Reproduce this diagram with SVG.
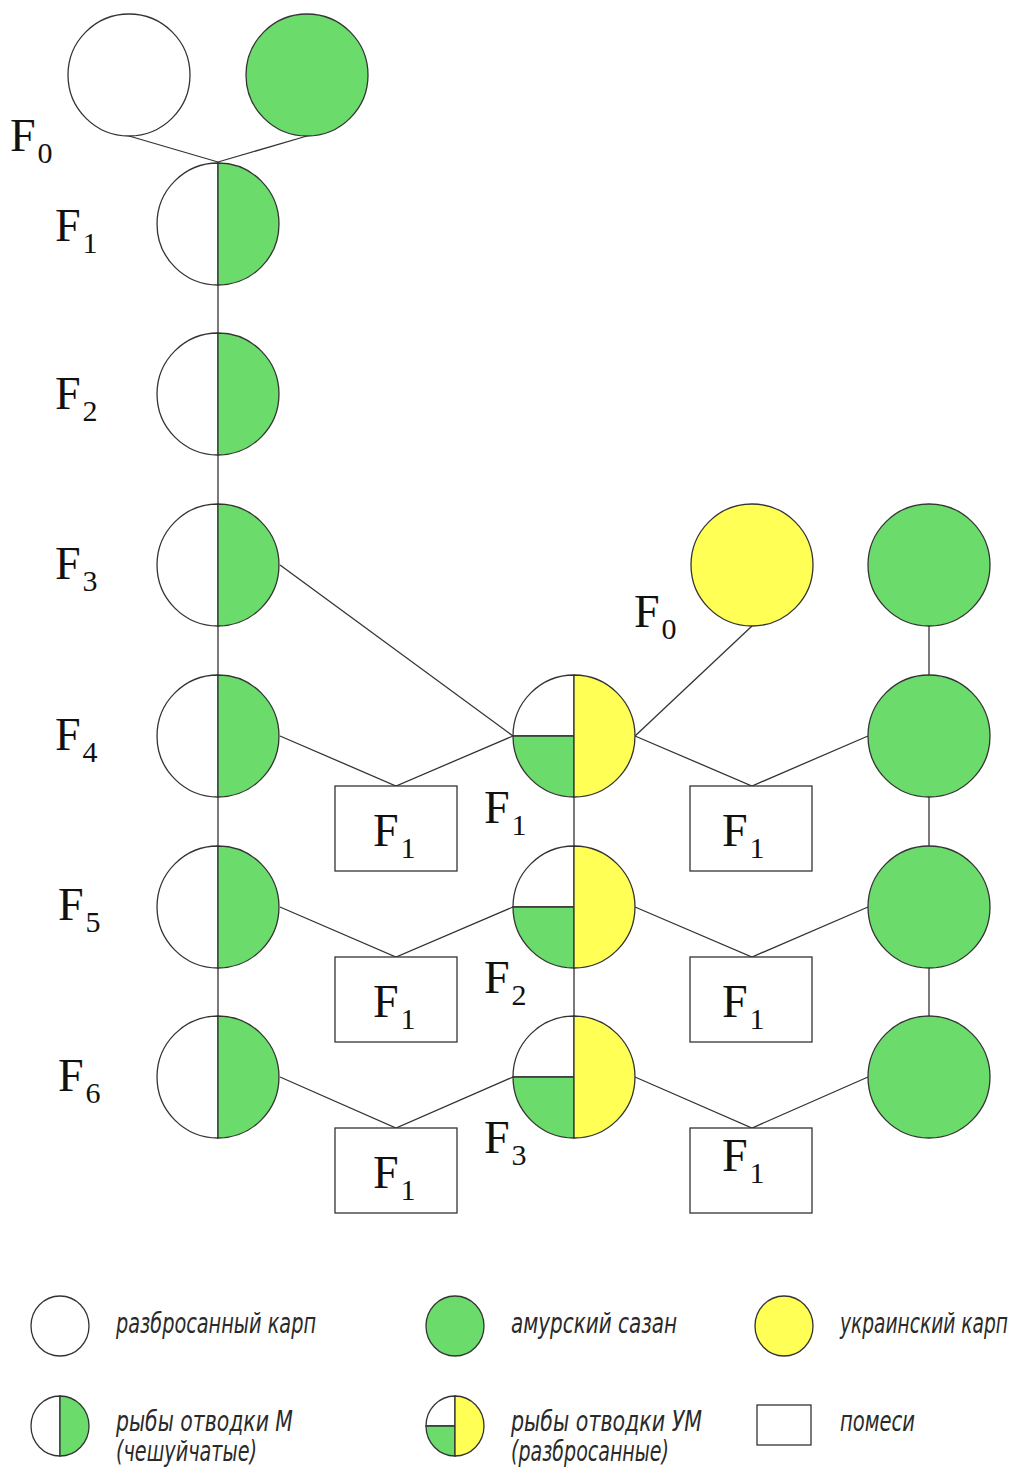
<svg xmlns="http://www.w3.org/2000/svg" width="1023" height="1469" viewBox="0 0 1023 1469">
  <style>
    .w { fill: #ffffff; stroke: #333; stroke-width: 1.3; }
    .g { fill: #6bdb6b; stroke: #333; stroke-width: 1.3; }
    .y { fill: #ffff55; stroke: #333; stroke-width: 1.3; }
    .ln { stroke: #333; stroke-width: 1.3; fill: none; }
    .box { fill: #ffffff; stroke: #333; stroke-width: 1.3; }
    .lab { font-family: "Liberation Serif", "Times New Roman", serif; font-size: 46px; fill: #111; }
    .sub { font-size: 30px; }
    .leg { font-family: "DejaVu Sans Condensed", "DejaVu Sans", sans-serif; font-style: italic; font-stretch: condensed; font-size: 28px; fill: #2a2a2a; }
  </style>
  <defs>
    <!-- half white / half green circle (line M) -->
    <g id="halfM">
      <path class="w" d="M0,-61 A61,61 0 0 0 0,61 Z"/>
      <path class="g" d="M0,-61 A61,61 0 0 1 0,61 Z"/>
    </g>
    <!-- quartered circle (line UM) -->
    <g id="quartUM">
      <path class="w" d="M0,-61 A61,61 0 0 0 -61,0 L0,0 Z"/>
      <path class="g" d="M-61,0 A61,61 0 0 0 0,61 L0,0 Z"/>
      <path class="y" d="M0,-61 A61,61 0 0 1 0,61 Z"/>
    </g>
  </defs>

  <!-- connectors -->
  <g id="connectors">
    <line class="ln" x1="129" y1="136" x2="218" y2="162"/>
    <line class="ln" x1="307" y1="136" x2="218" y2="162"/>
    <line class="ln" x1="218" y1="162" x2="218" y2="1138"/>
    <line class="ln" x1="574" y1="797" x2="574" y2="1016"/>
    <line class="ln" x1="929" y1="626" x2="929" y2="1016"/>
    <line class="ln" x1="280" y1="565" x2="513" y2="736"/>
    <line class="ln" x1="752" y1="626" x2="635" y2="736"/>
    <!-- row 4 -->
    <polyline class="ln" points="280,736 396,786 513,736"/>
    <polyline class="ln" points="635,736 752,786 868,736"/>
    <!-- row 5 -->
    <polyline class="ln" points="280,907 396,957 513,907"/>
    <polyline class="ln" points="635,907 752,957 868,907"/>
    <!-- row 6 -->
    <polyline class="ln" points="280,1077 396,1128 513,1077"/>
    <polyline class="ln" points="635,1077 752,1128 868,1077"/>
  </g>

  <!-- parents, left line -->
  <g id="p0-white"><circle class="w" cx="129" cy="75" r="61"/></g>
  <g id="p0-green"><circle class="g" cx="307" cy="75" r="61"/></g>
  <g id="m1"><use href="#halfM" x="218" y="224"/></g>
  <g id="m2"><use href="#halfM" x="218" y="394"/></g>
  <g id="m3"><use href="#halfM" x="218" y="565"/></g>
  <g id="m4"><use href="#halfM" x="218" y="736"/></g>
  <g id="m5"><use href="#halfM" x="218" y="907"/></g>
  <g id="m6"><use href="#halfM" x="218" y="1077"/></g>

  <!-- UM line -->
  <g id="u0-yellow"><circle class="y" cx="752" cy="565" r="61"/></g>
  <g id="um1"><use href="#quartUM" x="574" y="736"/></g>
  <g id="um2"><use href="#quartUM" x="574" y="907"/></g>
  <g id="um3"><use href="#quartUM" x="574" y="1077"/></g>

  <!-- Amur wild carp -->
  <g id="a0"><circle class="g" cx="929" cy="565" r="61"/></g>
  <g id="a1"><circle class="g" cx="929" cy="736" r="61"/></g>
  <g id="a2"><circle class="g" cx="929" cy="907" r="61"/></g>
  <g id="a3"><circle class="g" cx="929" cy="1077" r="61"/></g>

  <!-- crossbreeds -->
  <g id="x4l"><rect class="box" x="335" y="786" width="122" height="85"/><text class="lab" x="373" y="846">F<tspan class="sub" dx="2" dy="12">1</tspan></text></g>
  <g id="x4r"><rect class="box" x="690" y="786" width="122" height="85"/><text class="lab" x="722" y="846">F<tspan class="sub" dx="2" dy="12">1</tspan></text></g>
  <g id="x5l"><rect class="box" x="335" y="957" width="122" height="85"/><text class="lab" x="373" y="1017">F<tspan class="sub" dx="2" dy="12">1</tspan></text></g>
  <g id="x5r"><rect class="box" x="690" y="957" width="122" height="85"/><text class="lab" x="722" y="1017">F<tspan class="sub" dx="2" dy="12">1</tspan></text></g>
  <g id="x6l"><rect class="box" x="335" y="1128" width="122" height="85"/><text class="lab" x="373" y="1188">F<tspan class="sub" dx="2" dy="12">1</tspan></text></g>
  <g id="x6r"><rect class="box" x="690" y="1128" width="122" height="85"/><text class="lab" x="722" y="1171">F<tspan class="sub" dx="2" dy="12">1</tspan></text></g>

  <!-- generation labels -->
  <g id="labels">
    <text class="lab" x="10" y="151">F<tspan class="sub" dx="2" dy="12">0</tspan></text>
    <text class="lab" x="55" y="241">F<tspan class="sub" dx="2" dy="12">1</tspan></text>
    <text class="lab" x="55" y="409">F<tspan class="sub" dx="2" dy="12">2</tspan></text>
    <text class="lab" x="55" y="579">F<tspan class="sub" dx="2" dy="12">3</tspan></text>
    <text class="lab" x="55" y="750">F<tspan class="sub" dx="2" dy="12">4</tspan></text>
    <text class="lab" x="58" y="920">F<tspan class="sub" dx="2" dy="12">5</tspan></text>
    <text class="lab" x="58" y="1091">F<tspan class="sub" dx="2" dy="12">6</tspan></text>
    <text class="lab" x="634" y="627">F<tspan class="sub" dx="2" dy="12">0</tspan></text>
    <text class="lab" x="484" y="823">F<tspan class="sub" dx="2" dy="12">1</tspan></text>
    <text class="lab" x="484" y="993">F<tspan class="sub" dx="2" dy="12">2</tspan></text>
    <text class="lab" x="484" y="1153">F<tspan class="sub" dx="2" dy="12">3</tspan></text>
  </g>

  <!-- legend -->
  <g id="legend">
    <ellipse class="w" cx="60" cy="1326" rx="29" ry="30"/>
    <text class="leg" x="116" y="1333" textLength="200" lengthAdjust="spacingAndGlyphs">разбросанный карп</text>
    <ellipse class="g" cx="455" cy="1326" rx="29" ry="30"/>
    <text class="leg" x="511" y="1333" textLength="166" lengthAdjust="spacingAndGlyphs">амурский сазан</text>
    <ellipse class="y" cx="784" cy="1326" rx="29" ry="30"/>
    <text class="leg" transform="translate(840,1333) scale(0.8,1)" x="0" y="0" textLength="210" lengthAdjust="spacingAndGlyphs">украинский карп</text>

    <path class="w" d="M60,1396 A29,30 0 0 0 60,1456 Z"/>
    <path class="g" d="M60,1396 A29,30 0 0 1 60,1456 Z"/>
    <text class="leg"><tspan x="116" y="1431" textLength="177" lengthAdjust="spacingAndGlyphs">рыбы отводки М</tspan><tspan x="116" y="1461" textLength="141" lengthAdjust="spacingAndGlyphs">(чешуйчатые)</tspan></text>

    <path class="w" d="M455,1396 A29,30 0 0 0 426,1426 L455,1426 Z"/>
    <path class="g" d="M426,1426 A29,30 0 0 0 455,1456 L455,1426 Z"/>
    <path class="y" d="M455,1396 A29,30 0 0 1 455,1456 Z"/>
    <text class="leg"><tspan x="511" y="1431" textLength="191" lengthAdjust="spacingAndGlyphs">рыбы отводки УМ</tspan><tspan x="511" y="1461" textLength="158" lengthAdjust="spacingAndGlyphs">(разбросанные)</tspan></text>

    <rect class="box" x="757" y="1405" width="54" height="40"/>
    <text class="leg" x="840" y="1431" textLength="75" lengthAdjust="spacingAndGlyphs">помеси</text>
  </g>
</svg>
